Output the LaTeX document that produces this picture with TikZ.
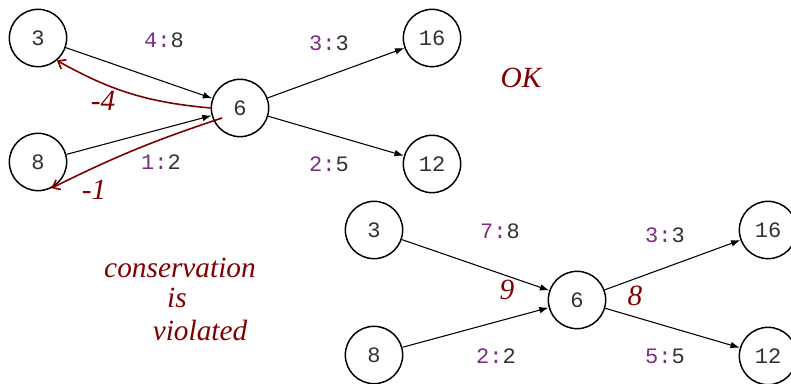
\documentclass[tikz,border=0pt]{standalone}
\usepackage{fontspec}
\setmainfont{Liberation Serif}
\newfontfamily\monofont{Liberation Mono}
\usetikzlibrary{arrows.meta,calc}
\definecolor{lab}{RGB}{125,45,130}
\definecolor{ink}{RGB}{128,0,0}
\definecolor{txt}{RGB}{50,50,50}
\newcommand{\fl}[2]{{\color{lab}#1:}{\color{txt}#2}}
\begin{document}
\begin{tikzpicture}[x=0.75pt,y=-0.75pt,
 vert/.style={circle,draw,line width=1.1pt,minimum size=43pt,inner sep=0pt,font=\monofont\fontsize{16.5}{16.5}\selectfont,text=txt},
 flow/.style={-{Latex[length=7pt,width=5pt]},line width=0.8pt},
 lbl/.style={font=\monofont\fontsize{16.5}{16.5}\selectfont},
 hand/.style={text=ink,font=\itshape\fontsize{22}{22}\selectfont},
 redline/.style={draw=ink,line width=1.2pt,-{Straight Barb[length=5pt,width=8pt]}}]
\useasboundingbox (0,0) rectangle (791,384);
% top graph
\node[vert] (a3) at (38,38) {3};
\node[vert] (a8) at (38,162) {8};
\node[vert] (a6) at (240,108) {6};
\node[vert] (a16) at (432,38) {16};
\node[vert] (a12) at (432,164) {12};
\draw[flow] (a3) -- (a6);
\draw[flow] (a8) -- (a6);
\draw[flow] (a6) -- (a16);
\draw[flow] (a6) -- (a12);
\node[lbl] (l1) at (164,40) {\fl{4}{8}};
\node[lbl] (l2) at (161,162) {\fl{1}{2}};
\node[lbl] (l3) at (329,43) {\fl{3}{3}};
\node[lbl] (l4) at (329,164) {\fl{2}{5}};
\coordinate (r2s) at ($(a6.center)+(-18,10)$);
\draw[redline] (a6.west) to[bend left=12] (a3.-50);
\draw[redline] (r2s) to[bend right=4] (a8.-63);
\node[hand] (m4) at (103,101) {-4};
\node[hand] (m1) at (94,190) {-1};
\node[hand] (ok) at (521,78) {OK};
\node[hand] (c1) at (180,268) {conservation};
\node[hand] (c2) at (177,298) {is};
\node[hand] (c3) at (200,330) {violated};
% bottom graph
\node[vert] (b3) at (374,230) {3};
\node[vert] (b8) at (374,355) {8};
\node[vert] (b6) at (577,300) {6};
\node[vert] (b16) at (768,230) {16};
\node[vert] (b12) at (768,356) {12};
\draw[flow] (b3) -- (b6);
\draw[flow] (b8) -- (b6);
\draw[flow] (b6) -- (b16);
\draw[flow] (b6) -- (b12);
\node[lbl] (k1) at (500,231) {\fl{7}{8}};
\node[lbl] (k2) at (496,356) {\fl{2}{2}};
\node[lbl] (k3) at (665,235) {\fl{3}{3}};
\node[lbl] (k4) at (665,356) {\fl{5}{5}};
\node[hand] (n9) at (507,290) {9};
\node[hand] (n8) at (635,296) {8};
\end{tikzpicture}
\end{document}
